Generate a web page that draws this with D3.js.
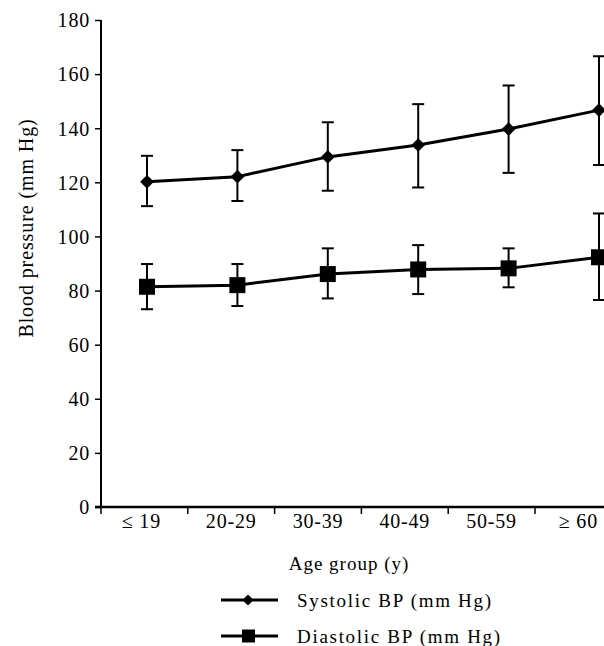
<!DOCTYPE html>
<html><head><meta charset="utf-8">
<script src="https://cdn.jsdelivr.net/npm/d3@7"></script>
<style>body{margin:0;background:#fff}svg{display:block}text{font-family:"Liberation Serif","Times New Roman",serif;fill:#000}</style>
</head><body>
<script>
const categories = ["\u2264 19","20-29","30-39","40-49","50-59","\u2265 60"];
const systolic = [120.2,122.1,129.4,133.8,139.7,146.7];
const systolicLow = [111.2,113.1,116.9,118.1,123.5,126.4];
const systolicHigh = [129.8,131.9,142.2,148.9,155.8,166.6];
const diastolic = [81.4,82.0,86.1,87.8,88.2,92.3];
const diastolicLow = [73.1,74.3,77.1,78.7,81.2,76.5];
const diastolicHigh = [89.8,89.8,95.6,96.8,95.6,108.5];
const yTicks = [0,20,40,60,80,100,120,140,160,180];
const seriesNames = ["Systolic BP (mm Hg)","Diastolic BP (mm Hg)"];

const W=604,H=646;
const svg=d3.select("body").append("svg").attr("width",W).attr("height",H);
const x0=101, y0=507;
const y=d3.scaleLinear().domain([0,180]).range([y0,20]);
const xb=d3.scaleBand().domain(categories).range([x0,x0+6*86.8]).paddingInner(0).paddingOuter(0);
const xp=d3.scaleLinear().domain([0,5]).range([147,599]);

// y axis
const ya=svg.append("g").attr("transform",`translate(${x0},0)`).call(d3.axisLeft(y).tickValues(yTicks).tickSize(6).tickPadding(5));
ya.select(".domain").attr("stroke","#000").attr("stroke-width",2).attr("d",`M0,${y(180)}V${y0}`);
ya.selectAll(".tick line").attr("stroke","#000").attr("stroke-width",1.5);
ya.selectAll(".tick text").style("font-size","20px").attr("letter-spacing","0.8px").attr("dy","0.34em");

// x axis
const xa=svg.append("g").attr("transform",`translate(0,${y0})`);
xa.append("line").attr("x1",x0-6).attr("x2",W).attr("y1",0).attr("y2",0).attr("stroke","#000").attr("stroke-width",2.5);
const bounds=d3.range(6).map(i=>xb(categories[i]));
xa.selectAll("line.t").data(bounds).join("line").attr("class","t").attr("x1",d=>d).attr("x2",d=>d).attr("y1",0).attr("y2",7).attr("stroke","#000").attr("stroke-width",1.5);
xa.selectAll("text").data(categories).join("text").attr("x",(d,i)=>xb(d)+xb.bandwidth()/2-(i===0?3:0)).attr("y",21).attr("text-anchor","middle").style("font-size","20px").attr("letter-spacing","0.8px").text(d=>d);

svg.append("text").attr("x",349).attr("y",570).attr("text-anchor","middle").style("font-size","19px").attr("letter-spacing","1px").text("Age group (y)");
svg.append("text").attr("transform","translate(33,228) rotate(-90)").attr("text-anchor","middle").style("font-size","20px").attr("letter-spacing","0.9px").text("Blood pressure (mm Hg)");

const series=[
 {v:systolic,lo:systolicLow,hi:systolicHigh,m:"diamond"},
 {v:diastolic,lo:diastolicLow,hi:diastolicHigh,m:"square"}
];
const line=d3.line().x((d,i)=>xp(i)).y(d=>y(d));
series.forEach(s=>{
  const g=svg.append("g");
  s.v.forEach((v,i)=>{
    g.append("line").attr("x1",xp(i)).attr("x2",xp(i)).attr("y1",y(s.lo[i])).attr("y2",y(s.hi[i])).attr("stroke","#000").attr("stroke-width",2);
    [s.lo[i],s.hi[i]].forEach(c=>g.append("line").attr("x1",xp(i)-6).attr("x2",xp(i)+6).attr("y1",y(c)).attr("y2",y(c)).attr("stroke","#000").attr("stroke-width",2));
  });
  g.append("path").attr("d",line(s.v)).attr("fill","none").attr("stroke","#000").attr("stroke-width",3);
  s.v.forEach((v,i)=>{
    if(s.m==="diamond") g.append("path").attr("d",d3.symbol(d3.symbolDiamond2,120)()).attr("transform",`translate(${xp(i)},${y(v)}) `).attr("fill","#000");
    else g.append("rect").attr("x",xp(i)-8).attr("y",y(v)-8).attr("width",16).attr("height",16).attr("fill","#000");
  });
});

// legend
const lg=[{yy:600,m:"diamond"},{yy:636,m:"square"}];
lg.forEach((l,k)=>{
  svg.append("line").attr("x1",221).attr("x2",278).attr("y1",l.yy).attr("y2",l.yy).attr("stroke","#000").attr("stroke-width",3);
  if(l.m==="diamond") svg.append("path").attr("d",d3.symbol(d3.symbolDiamond2,80)()).attr("transform",`translate(248,${l.yy})`).attr("fill","#000");
  else svg.append("rect").attr("x",242).attr("y",l.yy-6.5).attr("width",13).attr("height",13).attr("fill","#000");
  svg.append("text").attr("x",297).attr("y",l.yy+7).style("font-size","19px").attr("letter-spacing","1.7px").text(seriesNames[k]);
});
</script>
</body></html>
